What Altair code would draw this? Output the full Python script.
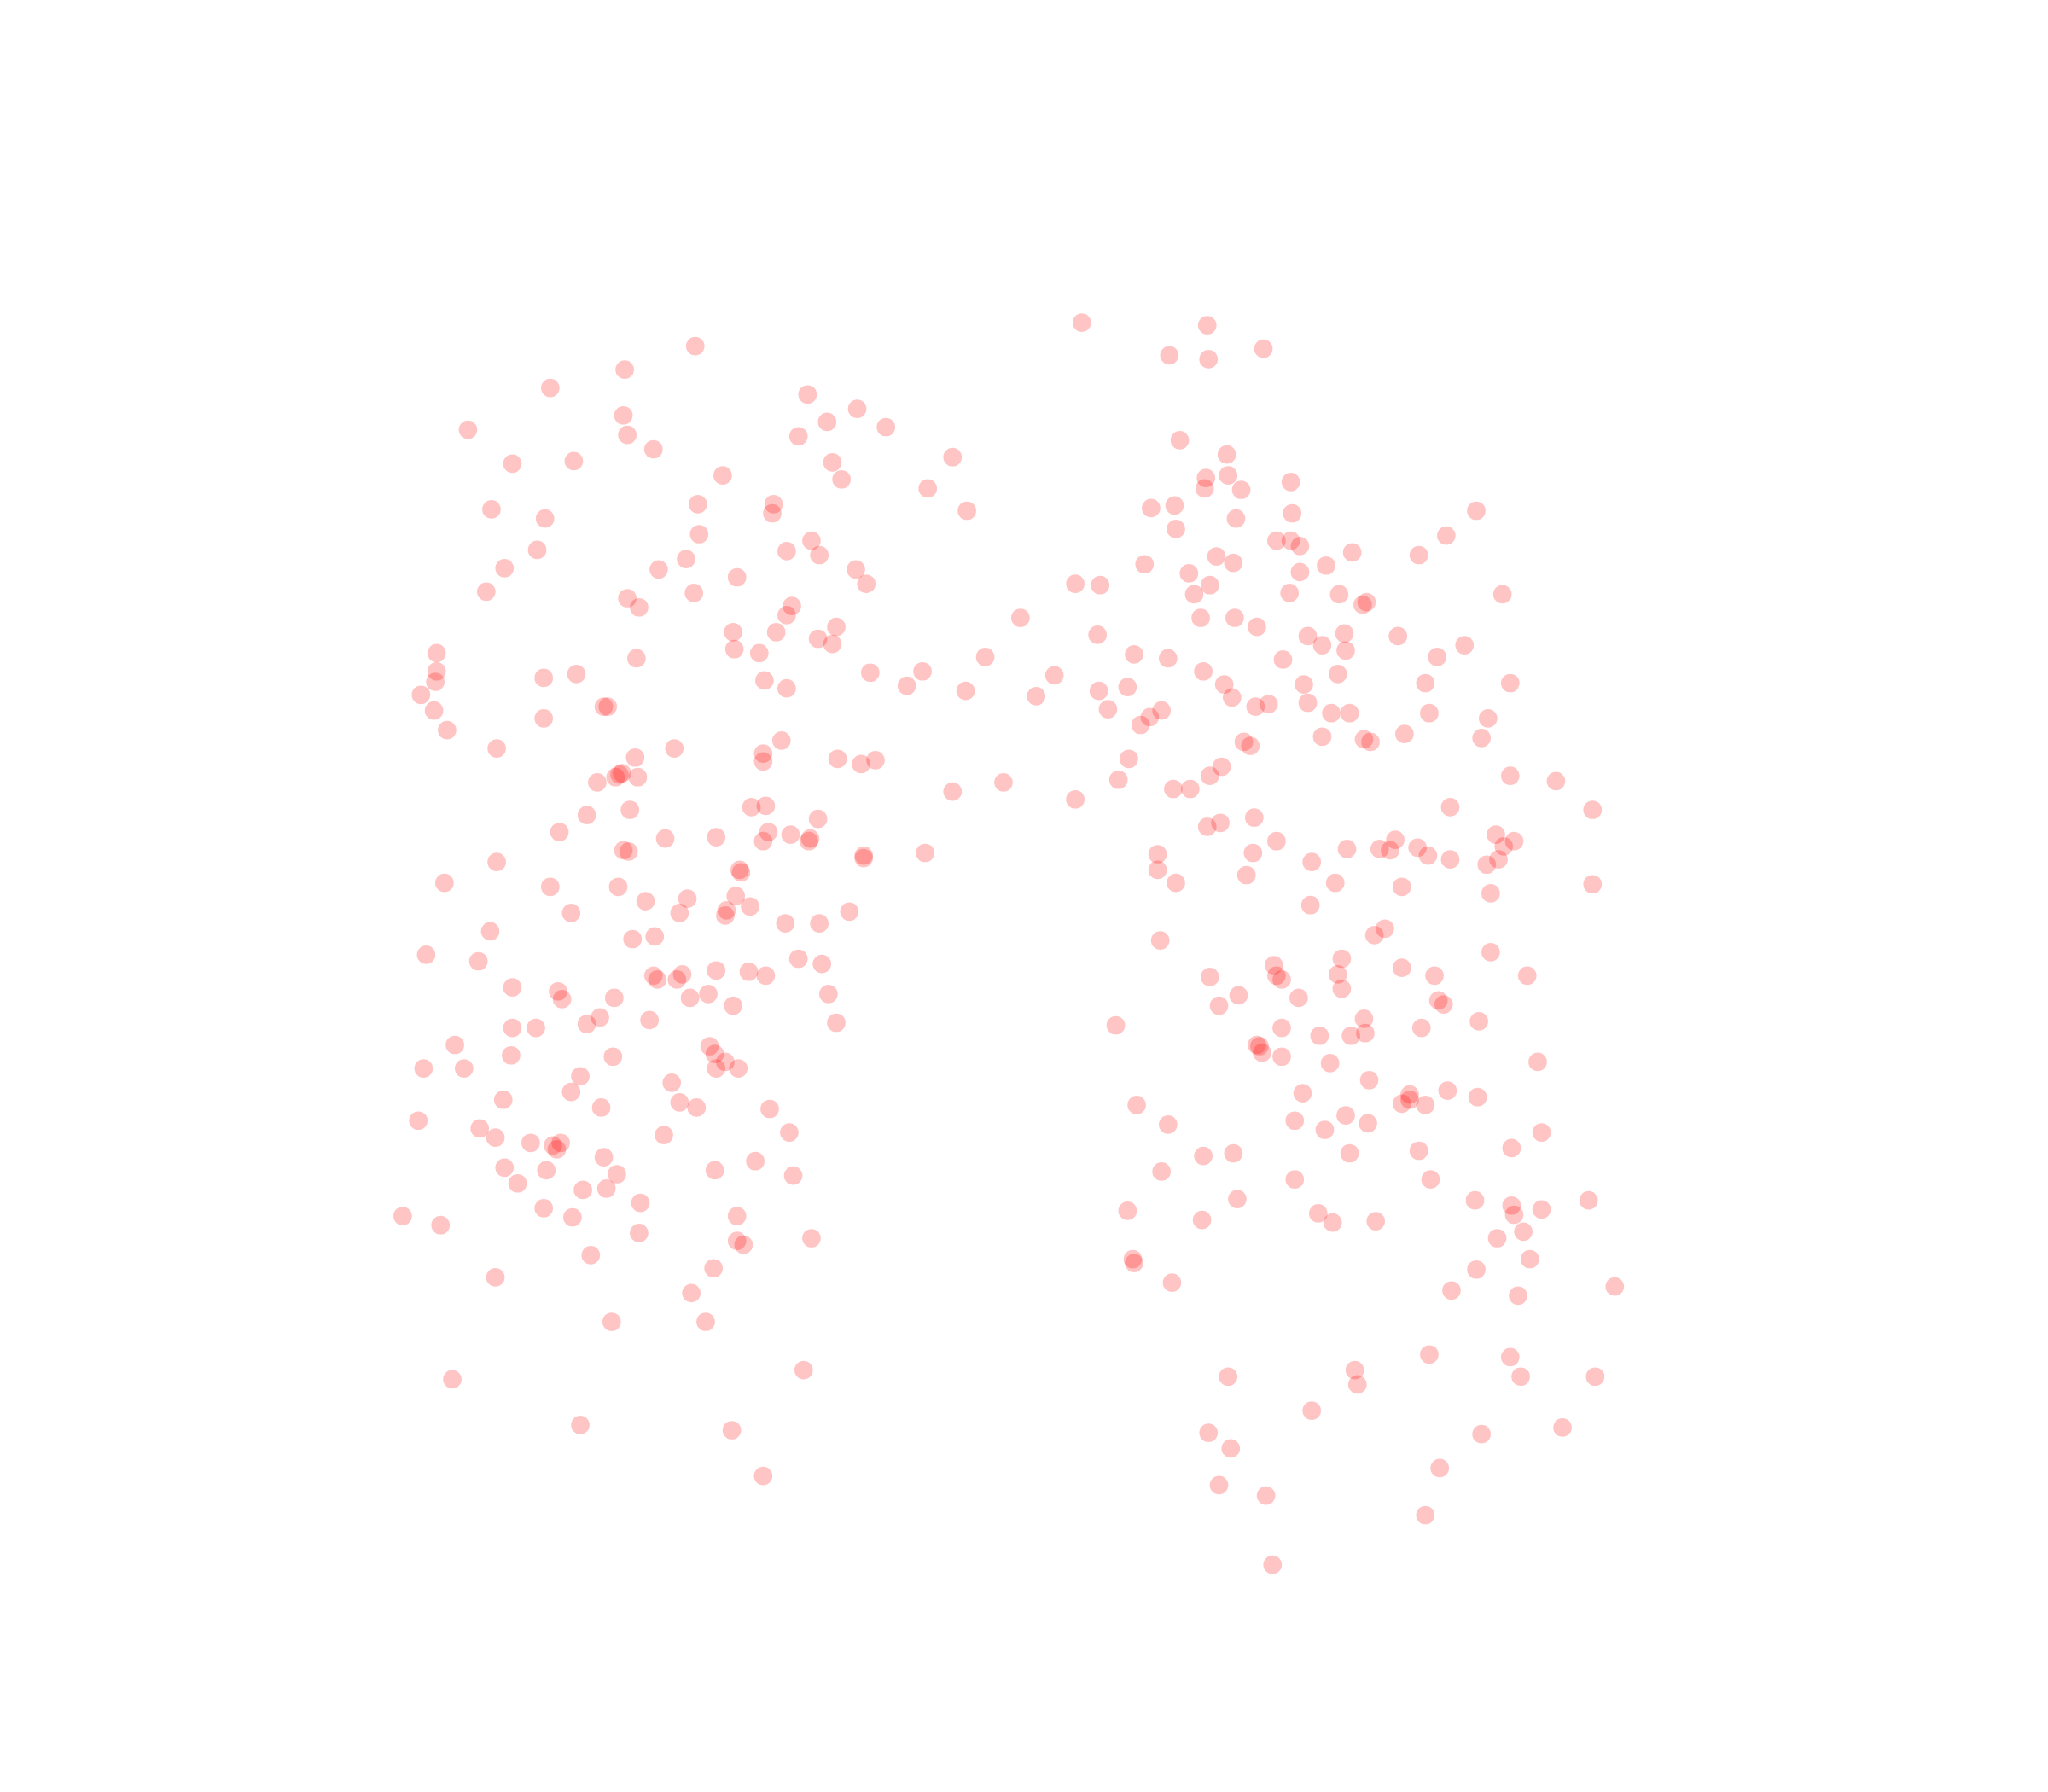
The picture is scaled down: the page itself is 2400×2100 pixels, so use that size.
import altair as alt
import pandas as pd

band_top = [(828,247),(924,249),(967,267),(895,272),(925,275),(532,265),(478,283),(421,297),(618,302),(656,313),(477,318),(633,323),(678,327),(358,329),(480,333),(611,334),(903,337),(500,344),(939,348),(729,350),(439,353),(392,355),(637,354),(553,364),(940,364),(923,366),(644,367),(988,369),(922,374),(950,375),(710,374),(534,386),(592,386),(591,393),(376,390),(881,389),(899,387),(740,391),(989,393),(1130,391),(417,397),(946,397),(900,405),(535,409),(1107,410),(621,414),(977,414),(988,414),(995,418),(411,421),(602,422),(627,425),(931,426),(1035,423),(1086,425),(525,428),(944,431),(876,432),(1015,433),(386,435),(504,436),(655,436),(910,439),(995,438),(564,442),(823,447),(842,448),(926,448),(663,447)]
band_upper = [(372,453),(531,454),(914,455),(987,454),(1025,455),(1150,455),(480,458),(489,465),(606,464),(1046,461),(1043,463),(602,471),(781,473),(919,473),(945,473),(640,480),(962,480),(561,484),(594,484),(840,486),(1001,487),(1029,485),(1070,487),(626,489),(637,493),(1012,494),(1121,494),(562,497),(334,500),(581,500),(1030,498),(487,504),(754,503),(868,501),(894,504),(982,505),(1100,503),(334,514),(416,519),(441,516),(666,515),(706,514),(807,517),(921,514),(1024,516),(333,522),(585,521),(694,525),(602,527),(739,529),(841,529),(863,526),(937,524),(998,524),(1091,523),(1156,523),(322,532),(793,533),(943,534),(1001,538),(332,544),(462,541),(465,541),(848,543),(889,544),(961,541),(971,539),(880,549),(1019,546),(1033,546),(1094,546),(416,550),(873,555),(1139,550),(342,559),(1012,564),(1044,566),(1049,568),(1075,562),(1134,565),(598,567),(952,568),(957,571),(380,573),(516,573),(584,577),(486,580),(584,583),(641,581),(659,585),(670,582),(864,581),(935,587),(476,592),(474,593),(471,595),(488,595),(457,599),(926,594),(856,597),(1156,594),(1191,598),(768,599),(898,604),(911,604),(729,606),(823,612)]
band_middle = [(575,618),(586,617),(482,620),(449,624),(1110,618),(1219,620),(626,627),(960,626),(934,630),(924,633),(428,637),(588,637),(605,639),(620,642),(619,644),(509,642),(548,641),(584,644),(977,644),(1068,643),(1145,639),(1159,644),(1151,648),(477,651),(481,652),(1031,650),(1056,650),(1064,651),(1085,649),(661,655),(661,657),(708,653),(886,654),(959,653),(1093,655),(1110,658),(1147,658),(1138,662),(380,660),(1004,660),(566,666),(567,668),(886,666),(954,670),(340,676),(421,679),(473,679),(900,676),(1022,676),(1073,679),(1219,677),(1141,684),(563,686),(494,690),(526,688),(574,694),(1003,693),(437,699),(520,699),(650,698),(556,697),(555,701),(601,707),(627,707),(375,713),(1060,711),(1052,716),(484,719),(501,717),(888,720),(326,731),(366,736),(1141,729),(1027,734),(611,734),(629,738),(975,739),(1073,741),(500,747),(503,750),(518,750),(522,746),(548,743),(573,744),(586,747),(926,748),(977,747),(981,750),(1024,746),(1098,747),(1169,747)]
band_lower = [(392,756),(427,759),(1027,757),(430,765),(470,764),(528,764),(542,761),(634,761),(948,762),(994,764),(1101,766),(1105,769),(561,770),(933,770),(459,779),(497,781),(449,784),(640,783),(1044,780),(1132,782),(392,787),(410,787),(854,785),(981,787),(1088,787),(1010,793),(1034,793),(1045,791),(348,800),(543,801),(962,800),(964,801),(391,808),(469,809),(547,807),(966,806),(981,809),(555,813),(1018,814),(1177,813),(324,818),(355,818),(548,818),(565,818),(444,824),(514,829),(1048,827),(437,836),(997,837),(1108,835),(1079,838),(1131,840),(385,842),(520,844),(1079,842),(1073,845),(1091,846),(460,848),(533,848),(589,849),(870,846),(1030,854),(320,858),(991,858),(894,861),(1047,860),(367,864),(1014,865),(604,867),(508,869),(1180,867),(379,871),(406,875),(429,875),(423,877),(426,880),(1157,879),(1086,881),(1033,883),(462,886),(578,889),(921,885),(944,883)]
band_bottom = [(386,894),(418,896),(547,896),(889,897),(472,899),(607,900),(396,906),(991,903),(1095,903),(446,911),(464,910),(947,918),(490,921),(1129,919),(1157,923),(1216,919),(416,925),(863,927),(1180,926),(1009,929),(308,931),(438,932),(564,931),(1159,930),(920,934),(1053,935),(1020,936),(337,938),(489,944),(1166,943),(621,948),(564,950),(569,953),(1146,948),(452,961),(867,964),(868,967),(1171,964),(546,971),(1130,972),(379,978),(897,982),(1236,985),(1111,988),(529,990),(1162,992),(468,1012),(540,1012),(1094,1037),(1156,1039),(615,1049),(1037,1049),(346,1056),(940,1054),(1164,1054),(1221,1054),(1039,1060),(1004,1080),(444,1091),(560,1095),(925,1097),(1134,1098),(1196,1093),(942,1109),(1102,1124),(584,1130),(933,1137),(969,1145),(1091,1160),(974,1198)]

points = band_top + band_upper + band_middle + band_lower + band_bottom
df = pd.DataFrame(points, columns=["x", "y"])

WIDTH = 2384
HEIGHT = 2084
K = 2400 / 1568
X0 = 8 / K - 0.3
Y0 = 8 / K

chart = (
    alt.Chart(df)
    .mark_circle(color="#ff0000", opacity=0.23, size=470)
    .encode(
        x=alt.X("x:Q", axis=None, scale=alt.Scale(domain=[X0, X0 + WIDTH / K], nice=False, zero=False)),
        y=alt.Y("y:Q", axis=None, scale=alt.Scale(domain=[Y0 + HEIGHT / K, Y0], nice=False, zero=False)),
    )
    .properties(width=WIDTH, height=HEIGHT, padding=0,
                autosize=alt.AutoSizeParams(type="none"))
    .configure_view(stroke=None)
)
chart.save("out.html", embed_options={"renderer": "svg", "actions": False})
